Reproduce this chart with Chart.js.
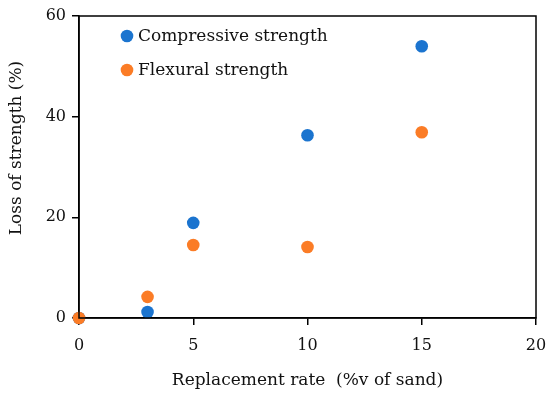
<!DOCTYPE html>
<html>
<head>
<meta charset="utf-8">
<script src="https://cdn.jsdelivr.net/npm/chart.js@4"></script>
<style>
html,body{margin:0;padding:0;background:#fff;}
#wrap{width:550px;height:398px;position:relative;}
</style>
</head>
<body>
<div id="wrap"><canvas id="c" width="550" height="398"></canvas></div>
<script>
const seriesNames = ["Compressive strength", "Flexural strength"];
const xValues = [0, 3, 5, 10, 15];
const compressive = [0, 1.2, 18.9, 36.3, 54.0];
const flexural = [0, 4.2, 14.5, 14.1, 36.9];
const xTicks = [0, 5, 10, 15, 20];
const yTicks = [0, 20, 40, 60];
const xTitle = "Replacement rate  (%v of sand)";
const yTitle = "Loss of strength (%)";

const FONT = '"Palatino Linotype", "Book Antiqua", Palatino, "URW Palladio L", "DejaVu Serif", serif';
const colors = ["#1B74CF", "#FB7C26"];

const toPts = arr => xValues.map((x, i) => ({x: x, y: arr[i]}));

const frameAndLegend = {
  id: 'frameAndLegend',
  afterDatasetsDraw(chart) {
    const {ctx, chartArea: a} = chart;
    ctx.save();
    ctx.strokeStyle = '#000';
    ctx.lineWidth = 1.5;
    ctx.strokeRect(a.left, a.top, a.right - a.left, a.bottom - a.top);
    ctx.font = '17px ' + FONT;
    ctx.textBaseline = 'middle';
    ctx.textAlign = 'left';
    chart.data.datasets.forEach((ds, i) => {
      const y = 36 + i * 34;
      ctx.fillStyle = ds.backgroundColor;
      ctx.beginPath();
      ctx.arc(127, y, 6.3, 0, Math.PI * 2);
      ctx.fill();
      ctx.fillStyle = '#111';
      ctx.fillText(ds.label, 138, y + 1);
    });
    // y-axis title
    ctx.translate(17, 148);
    ctx.rotate(-Math.PI / 2);
    ctx.textAlign = 'center';
    ctx.fillText(yTitle, 0, 0);
    ctx.restore();
  }
};

new Chart(document.getElementById('c'), {
  type: 'scatter',
  data: {
    datasets: [
      {label: seriesNames[0], data: toPts(compressive), order: 1, clip: false, backgroundColor: colors[0], borderColor: colors[0], pointRadius: 6.3, pointHoverRadius: 6.3, borderWidth: 0},
      {label: seriesNames[1], data: toPts(flexural), order: 0, clip: false, backgroundColor: colors[1], borderColor: colors[1], pointRadius: 6.3, pointHoverRadius: 6.3, borderWidth: 0}
    ]
  },
  options: {
    responsive: false,
    animation: false,
    devicePixelRatio: 1,
    layout: {padding: {left: 0, right: 14, top: 16, bottom: 0}},
    plugins: {legend: {display: false}, tooltip: {enabled: false}},
    scales: {
      x: {
        type: 'linear', min: 0, max: 20,
        afterBuildTicks: s => { s.ticks = xTicks.map(v => ({value: v})); },
        afterFit: s => { s.height = 80; s.paddingLeft = 0; s.paddingRight = 0; },
        grid: {drawOnChartArea: false, drawTicks: true, tickLength: 7, color: '#000', lineWidth: 1.5},
        border: {color: '#000', width: 1.5},
        ticks: {font: {family: FONT, size: 16}, color: '#111', padding: 11},
        title: {display: true, text: xTitle, font: {family: FONT, size: 17}, color: '#111', padding: {top: 0, bottom: 7}}
      },
      y: {
        type: 'linear', min: 0, max: 60,
        afterBuildTicks: s => { s.ticks = yTicks.map(v => ({value: v})); },
        afterFit: s => { s.width = 79; s.paddingTop = 0; s.paddingBottom = 0; },
        grid: {drawOnChartArea: false, drawTicks: true, tickLength: 7, color: '#000', lineWidth: 1.5},
        border: {color: '#000', width: 1.5},
        ticks: {font: {family: FONT, size: 16}, color: '#111', padding: 6},
        title: {display: false}
      }
    }
  },
  plugins: [frameAndLegend]
});
</script>
</body>
</html>
